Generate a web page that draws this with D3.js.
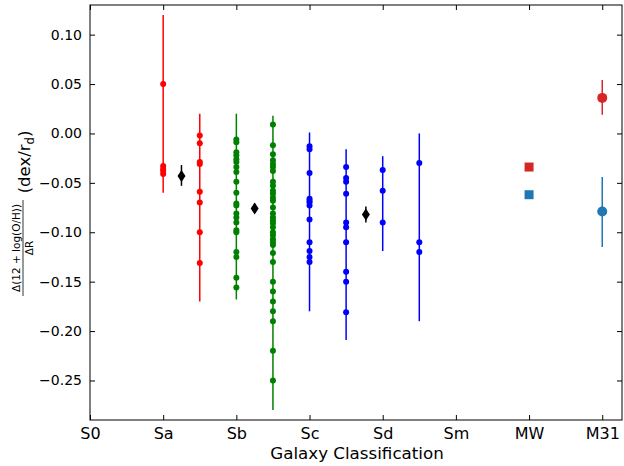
<!DOCTYPE html>
<html><head><meta charset="utf-8">
<script src="https://cdn.jsdelivr.net/npm/d3@7"></script>
<style>body{margin:0;background:#fff}svg{display:block;font-family:"DejaVu Sans",sans-serif}</style>
</head><body><svg id="c" width="624" height="466"></svg>
<script>
const categories = ["S0","Sa","Sb","Sc","Sd","Sm","MW","M31"];
const yTicks = [0.10,0.05,0.00,-0.05,-0.10,-0.15,-0.20,-0.25];

// galaxy-type columns: x position (type index), values, error range
const saPos = 1,   saVals = [0.050,-0.033,-0.036,-0.038,-0.041], saErr = [-0.060,0.120];
const sabPos = 1.5, sabVals = [-0.002,-0.010,-0.029,-0.031,-0.059,-0.070,-0.100,-0.131], sabErr = [-0.170,0.020];
const sbPos = 2,   sbVals = [-0.006,-0.009,-0.019,-0.022,-0.026,-0.029,-0.034,-0.039,-0.049,-0.060,-0.071,-0.073,-0.081,-0.085,-0.090,-0.098,-0.100,-0.120,-0.125,-0.146,-0.156], sbErr = [-0.168,0.020];
const sbcPos = 2.5, sbcVals = [0.009,-0.012,-0.021,-0.027,-0.031,-0.034,-0.038,-0.049,-0.053,-0.058,-0.061,-0.065,-0.068,-0.075,-0.081,-0.085,-0.088,-0.091,-0.095,-0.100,-0.103,-0.107,-0.110,-0.113,-0.121,-0.130,-0.150,-0.160,-0.170,-0.180,-0.190,-0.220,-0.250], sbcErr = [-0.280,0.018];
const scPos = 3,   scVals = [-0.013,-0.016,-0.040,-0.066,-0.068,-0.070,-0.073,-0.087,-0.110,-0.119,-0.125,-0.130], scErr = [-0.180,0.001];
const scdPos = 3.5, scdVals = [-0.034,-0.045,-0.049,-0.061,-0.090,-0.095,-0.110,-0.140,-0.150,-0.181], scdErr = [-0.209,-0.016];
const sdPos = 4,   sdVals = [-0.037,-0.058,-0.090], sdErr = [-0.119,-0.023];
const sdmPos = 4.5, sdmVals = [-0.030,-0.110,-0.120], sdmErr = [-0.190,0.000];

// black diamond means
const meanPos = [1.25,2.25,3.77];
const meanVals = [-0.043,-0.076,-0.082];
const meanLo = [-0.053,-0.080,-0.090];
const meanHi = [-0.032,-0.071,-0.074];

// MW squares
const mwPos = 6, mwVals = [-0.034,-0.062];
// M31 circles
const m31Pos = 7, m31Vals = [0.036,-0.079], m31Lo = [0.019,-0.115], m31Hi = [0.054,-0.044];

const groups = [
  {pos:saPos, vals:saVals, err:saErr, color:"#ff0000"},
  {pos:sabPos, vals:sabVals, err:sabErr, color:"#ff0000"},
  {pos:sbPos, vals:sbVals, err:sbErr, color:"#008000"},
  {pos:sbcPos, vals:sbcVals, err:sbcErr, color:"#008000"},
  {pos:scPos, vals:scVals, err:scErr, color:"#0000ff"},
  {pos:scdPos, vals:scdVals, err:scdErr, color:"#0000ff"},
  {pos:sdPos, vals:sdVals, err:sdErr, color:"#0000ff"},
  {pos:sdmPos, vals:sdmVals, err:sdmErr, color:"#0000ff"}
];
const pairColors = ["#d62728","#1f77b4"];

const L=90, R=622, T=5, B=420;
const x = d3.scaleLinear().domain([0,7.27]).range([L,R]);
const y = d3.scaleLinear().domain([-0.29,0.13]).range([B,T]);
const svg = d3.select("#c");
const fmt = d => (d<0?"\u2212":"") + Math.abs(d).toFixed(2);

// axes
const gx = svg.append("g").attr("transform",`translate(0,${B})`)
  .call(d3.axisBottom(x).tickValues(d3.range(categories.length)).tickFormat(i=>categories[i]).tickSizeInner(-5).tickSizeOuter(0).tickPadding(8));
const gxt = svg.append("g").attr("transform",`translate(0,${T})`)
  .call(d3.axisTop(x).tickValues(d3.range(categories.length)).tickFormat("").tickSizeInner(-5).tickSizeOuter(0));
const gy = svg.append("g").attr("transform",`translate(${L},0)`)
  .call(d3.axisLeft(y).tickValues(yTicks).tickFormat(fmt).tickSizeInner(-5).tickSizeOuter(0).tickPadding(8));
const gyr = svg.append("g").attr("transform",`translate(${R},0)`)
  .call(d3.axisRight(y).tickValues(yTicks).tickFormat("").tickSizeInner(-5).tickSizeOuter(0));
[gx,gxt,gy,gyr].forEach(g=>{
  g.select(".domain").remove();
  g.selectAll("line").attr("stroke","#000").attr("stroke-width",1);
  g.selectAll("text").attr("fill","#000").style("font-family","DejaVu Sans").style("font-size","16px");
});
gy.selectAll("text").style("font-size","14px");
svg.append("rect").attr("x",L).attr("y",T).attr("width",R-L).attr("height",B-T)
  .attr("fill","none").attr("stroke","#000").attr("stroke-width",1);

// x label
svg.append("text").attr("x",(L+R)/2+1).attr("y",459).attr("text-anchor","middle")
  .style("font-size","16.7px").text("Galaxy Classification");

// y label
const yl = svg.append("g").attr("transform","rotate(-90)");
yl.append("text").attr("x",-248).attr("y",20).attr("text-anchor","middle")
  .style("font-size","10.5px").text("\u0394(12 + log(O/H))");
yl.append("line").attr("x1",-296).attr("x2",-200).attr("y1",23).attr("y2",23).attr("stroke","#000").attr("stroke-width",0.8);
yl.append("text").attr("x",-248).attr("y",33).attr("text-anchor","middle")
  .style("font-size","10.5px").text("\u0394R");
const t2 = yl.append("text").attr("x",-162).attr("y",30).attr("text-anchor","middle").style("font-size","16.5px");
t2.append("tspan").text("(dex/r");
t2.append("tspan").attr("dy",4).style("font-size","11.5px").text("d");
t2.append("tspan").attr("dy",-4).text(")");

const plot = svg.append("g");
// columns
groups.forEach(gp=>{
  plot.append("line").attr("x1",x(gp.pos)).attr("x2",x(gp.pos))
    .attr("y1",y(gp.err[0])).attr("y2",y(gp.err[1]))
    .attr("stroke",gp.color).attr("stroke-width",1.5);
  plot.selectAll(null).data(gp.vals).enter().append("circle")
    .attr("cx",x(gp.pos)).attr("cy",d=>y(d)).attr("r",3).attr("fill",gp.color);
});
// means
meanPos.forEach((p,i)=>{
  plot.append("line").attr("x1",x(p)).attr("x2",x(p)).attr("y1",y(meanLo[i])).attr("y2",y(meanHi[i]))
    .attr("stroke","#000").attr("stroke-width",1.5);
  const cx=x(p), cy=y(meanVals[i]);
  plot.append("path").attr("d",`M${cx},${cy-6}L${cx+4},${cy}L${cx},${cy+6}L${cx-4},${cy}Z`).attr("fill","#000");
});
// MW
mwVals.forEach((v,i)=>{
  plot.append("rect").attr("x",x(mwPos)-4.5).attr("y",y(v)-4.5).attr("width",9).attr("height",9).attr("fill",pairColors[i]);
});
// M31
m31Vals.forEach((v,i)=>{
  plot.append("line").attr("x1",x(m31Pos)).attr("x2",x(m31Pos)).attr("y1",y(m31Lo[i])).attr("y2",y(m31Hi[i]))
    .attr("stroke",pairColors[i]).attr("stroke-width",1.5);
  plot.append("circle").attr("cx",x(m31Pos)).attr("cy",y(v)).attr("r",5).attr("fill",pairColors[i]);
});
</script></body></html>
